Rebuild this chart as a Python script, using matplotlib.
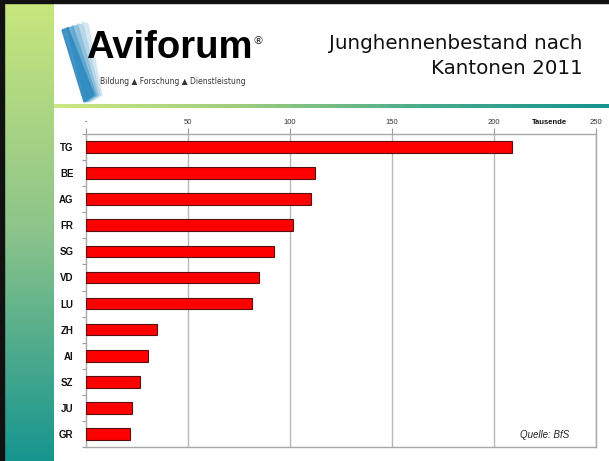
import numpy as np
import matplotlib
matplotlib.use("Agg")
import matplotlib.pyplot as plt
from matplotlib.patches import Rectangle, Polygon
from matplotlib.colors import LinearSegmentedColormap

# Junghennenbestand 2011 in Tausend, nach Kanton
kantone = ["TG", "BE", "AG", "FR", "SG", "VD", "LU", "ZH", "AI", "SZ", "JU", "GR"]
bestand = [208.8, 112.1, 110.3, 101.3, 92.0, 84.6, 81.2, 34.6, 30.2, 26.5, 22.7, 21.4]
x_ticks = [0, 50, 100, 150, 200, 250]
x_ticklabels = ["-", "50", "100", "150", "200", "250"]

W, H = 609, 461
fig = plt.figure(figsize=(W / 100, H / 100), dpi=100)
fig.patch.set_facecolor("white")


def fx(px):
    return px / W


def fy(py):
    return 1 - py / H


# left green/teal strip
strip = fig.add_axes([fx(4), 0, fx(50), 1])
strip_cmap = LinearSegmentedColormap.from_list("strip", ["#c9e77c", "#8cc48a", "#16958f"])
strip.imshow(np.linspace(0, 1, 256).reshape(-1, 1), aspect="auto", cmap=strip_cmap,
             extent=[0, 1, 0, 1], origin="upper")
strip.axis("off")

# separator line under the header
sep = fig.add_axes([fx(54), fy(108), fx(W - 54), 4 / H])
sep_cmap = LinearSegmentedColormap.from_list("sep", ["#cde783", "#9fcd7e", "#4aab8c", "#15938f"])
sep.imshow(np.linspace(0, 1, 256).reshape(1, -1), aspect="auto", cmap=sep_cmap,
           extent=[0, 1, 0, 1])
sep.axis("off")

# black frame top and left
fig.patches.append(Rectangle((0, fy(3)), 1, 3 / H, transform=fig.transFigure,
                             color="#111111", zorder=10))
fig.patches.append(Rectangle((0, 0), fx(4), 1, transform=fig.transFigure,
                             color="#111111", zorder=10))

# logo: feathered blue stripes
stripe_cols = ["#d3e6f0", "#b5d5e8", "#8cbfdc", "#5fa6cf", "#2f8bc0"]
for i, c in enumerate(stripe_cols):
    off = (4 - i) * 5
    pts = [(62 + off, 30 - (4 - i) * 2), (68 + off, 24 + i), (94 + off * 0.4, 95),
           (84 + off * 0.3, 102)]
    fig.patches.append(Polygon([(fx(x), fy(y)) for x, y in pts], closed=True,
                               transform=fig.transFigure, color=c, alpha=0.9, zorder=2))
fig.text(fx(86), fy(48), "Aviforum", fontsize=27.5, fontweight="bold",
         family="Liberation Sans", color="black", va="center", ha="left", zorder=5)
fig.text(fx(258), fy(41), "®", fontsize=8, family="DejaVu Sans", color="#222222",
         va="center", ha="center")
fig.text(fx(100), fy(81), "Bildung \u25b2 Forschung \u25b2 Dienstleistung", fontsize=5.5,
         family="DejaVu Sans", color="#333333", va="center", ha="left")

# title
fig.text(fx(583), fy(56), "Junghennenbestand nach\nKantonen 2011", fontsize=14.3,
         family="DejaVu Sans", color="#111111", ha="right", va="center",
         multialignment="right", linespacing=1.35)

# chart
ax = fig.add_axes([fx(86), fy(447), fx(596 - 86), (447 - 134) / H])
y = np.arange(len(kantone))
ax.barh(y, bestand, height=0.45, color="#ff0000", edgecolor="#5a1010", linewidth=0.8,
        zorder=3)
ax.set_xlim(0, 250)
ax.set_ylim(len(kantone) - 0.5, -0.5)

ax.xaxis.tick_top()
ax.set_xticks(x_ticks)
ax.set_xticklabels(x_ticklabels, fontsize=5.5, color="#333333", family="Liberation Sans")
ax.tick_params(axis="x", length=4, width=0.8, color="#9a9a9a", pad=2)
for xv in x_ticks[1:]:
    ax.axvline(xv, color="#b8b8b8", linewidth=1.0, zorder=1)

ax.set_yticks(y)
ax.set_yticklabels(kantone, fontsize=7, fontweight="bold", family="Liberation Sans",
                   color="#111111")
ax.set_yticks(np.arange(-0.5, len(kantone), 1), minor=True)
ax.tick_params(axis="y", which="major", length=0, pad=9)
ax.tick_params(axis="y", which="minor", length=3, width=0.8, color="#9a9a9a")

for side, sp in ax.spines.items():
    sp.set_color("#a8a8a8")
    sp.set_linewidth(1.0)

fig.text(fx(549), fy(123), "Tausende", fontsize=5.5, fontweight="bold",
         family="Liberation Sans", color="#111111", ha="center", va="center")
ax.text(0.9, 0.038, "Quelle: BfS", transform=ax.transAxes, fontsize=7,
        style="italic", family="Liberation Sans", color="#222222", ha="center",
        va="center")

fig.savefig("out.png", dpi=100)
